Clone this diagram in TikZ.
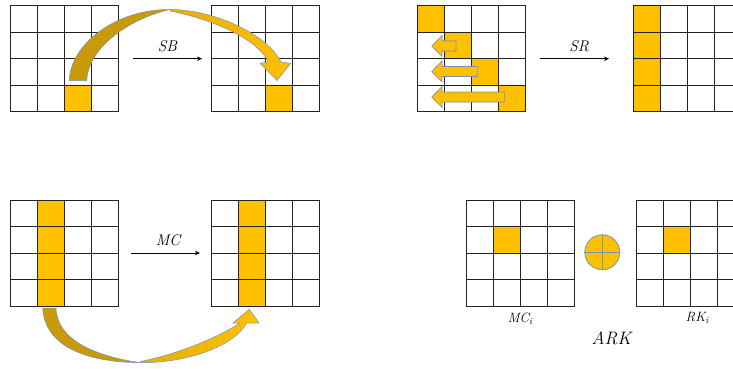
\documentclass[tikz,border=0pt]{standalone}
\usepackage{fontspec}
\usetikzlibrary{positioning,arrows.meta}

\definecolor{cellgold}{RGB}{255,192,0}
\definecolor{backgold}{RGB}{200,154,10}
\definecolor{edgeblue}{RGB}{118,148,188}
\definecolor{gridgray}{RGB}{35,35,35}

\begin{document}
\begin{tikzpicture}[
  x=1pt, y=-1pt,
  every node/.style = {font=\fontsize{15.5}{17}\selectfont\itshape},
  state/.style = {draw=gridgray, line width=1pt, minimum width=108pt,
    minimum height=106pt, inner sep=0pt, outer sep=0pt,
    path picture={
      \foreach \i in {1,2,3} {
        \draw[gridgray, line width=1pt]
          ([xshift=\i*27pt]path picture bounding box.north west) --
          ([xshift=\i*27pt]path picture bounding box.south west);
        \draw[gridgray, line width=1pt]
          ([yshift=-\i*26.5pt]path picture bounding box.north west) --
          ([yshift=-\i*26.5pt]path picture bounding box.north east);
      }}},
  cell/.style  = {fill=cellgold, draw=gridgray, line width=1pt},
  op/.style    = {-{Stealth[length=5pt, width=4.5pt]}, line width=0.9pt},
  back/.style  = {fill=backgold, draw=edgeblue, line width=0.5pt},
  front/.style = {left color=backgold!45!cellgold, right color=cellgold,
                  draw=edgeblue, line width=0.5pt},
  shiftarrow/.style = {fill=cellgold, draw=edgeblue!80!gray, line width=0.6pt},
  sub/.style   = {font=\fontsize{13.5}{15}\selectfont\itshape},
]

\useasboundingbox (0,0) rectangle (733,369);

% ── State grids ───────────────────────────────────────────────────────────
\foreach \g/\px/\py in {sbin/64/58.7, sbout/265/58.7, srin/471.5/58.7,
                        srout/687/58.7, mcin/64/253, mcout/265/253,
                        mci/520/253, rki/690/253}
  \node[state] (\g) at (\px,\py) {};

% ── Highlighted bytes (column/row) ────────────────────────────────────────
\foreach \g/\c/\r in {sbin/3/4, sbout/3/4,
                      srin/1/1, srin/2/2, srin/3/3, srin/4/4,
                      srout/1/1, srout/1/2, srout/1/3, srout/1/4,
                      mcin/2/1, mcin/2/2, mcin/2/3, mcin/2/4,
                      mcout/2/1, mcout/2/2, mcout/2/3, mcout/2/4,
                      mci/2/2, rki/2/2}
  \draw[cell] ([xshift=(\c-1)*27pt, yshift=-(\r-1)*26.5pt]\g.north west)
    rectangle +(27,26.5);

% ── Operation arrows ───────────────────────────────────────────────────────
\draw[op, shorten <=15pt, shorten >=9pt] (sbin) --
  node[above=3.5pt, xshift=3pt] {SB} (sbout);
\draw[op, shorten <=14.5pt, shorten >=24pt] (srin) --
  node[above=3.5pt] {SR} (srout);
\draw[op, shorten <=13pt, shorten >=11pt] (mcin) --
  node[above=3.5pt, xshift=3.5pt] {MC} (mcout);

% ── SubBytes: curved arrow over the top ───────────────────────────────────
\draw[back] (69.3,80.5) .. controls (70,45) and (115,9) .. (170,9.5)
  .. controls (125,20) and (88,50) .. (86.7,80.5) -- cycle;
\draw[front] (170,9.5) .. controls (215,9.5) and (268,35) .. (281,62)
  -- (290.7,63.3) -- (277,80.5) -- (260,63.3) -- (268,62)
  .. controls (262,45) and (225,22) .. (170,11) -- cycle;

% ── ShiftRows: left shifts of rows 2-4 ────────────────────────────────────
\foreach \yc/\xe in {46/456, 71.5/477.3, 97/504.3}
  \draw[shiftarrow] (\xe,\yc-5) -- (442,\yc-5) -- (442,\yc-10.5)
    -- (431.7,\yc) -- (442,\yc+10.5) -- (442,\yc+5) -- (\xe,\yc+5) -- cycle;

% ── MixColumns: curved arrow underneath ───────────────────────────────────
\draw[back] (42.7,308) .. controls (44,340) and (75,362) .. (140,362.7)
  .. controls (95,356) and (57,340) .. (56,308) -- cycle;
\draw[front] (140,362.7) .. controls (190,363) and (235,345) .. (246.7,323)
  -- (259,323) -- (249.3,309.3) -- (233,323) -- (240,323)
  .. controls (222,335) and (180,354) .. (140,361.5) -- cycle;

% ── AddRoundKey ────────────────────────────────────────────────────────────
\node[circle, minimum size=35pt, inner sep=0pt, fill=cellgold,
      draw=edgeblue, line width=0.8pt] (xor) at (602.3,252.3) {};
\draw[edgeblue, line width=0.8pt] (xor.north) -- (xor.south)
  (xor.west) -- (xor.east);

\node[sub, below=3pt of mci] (mcilabel)
  {MC\raisebox{-0.35ex}{\fontsize{9.5}{10}\selectfont i}};
\node[sub, below=3pt of rki, xshift=7pt] (rkilabel)
  {RK\raisebox{-0.35ex}{\fontsize{9.5}{10}\selectfont i}};
\node[below=58pt of xor, xshift=9pt, font=\fontsize{18}{20}\selectfont\itshape]
  (arklabel) {ARK};

\end{tikzpicture}
\end{document}
